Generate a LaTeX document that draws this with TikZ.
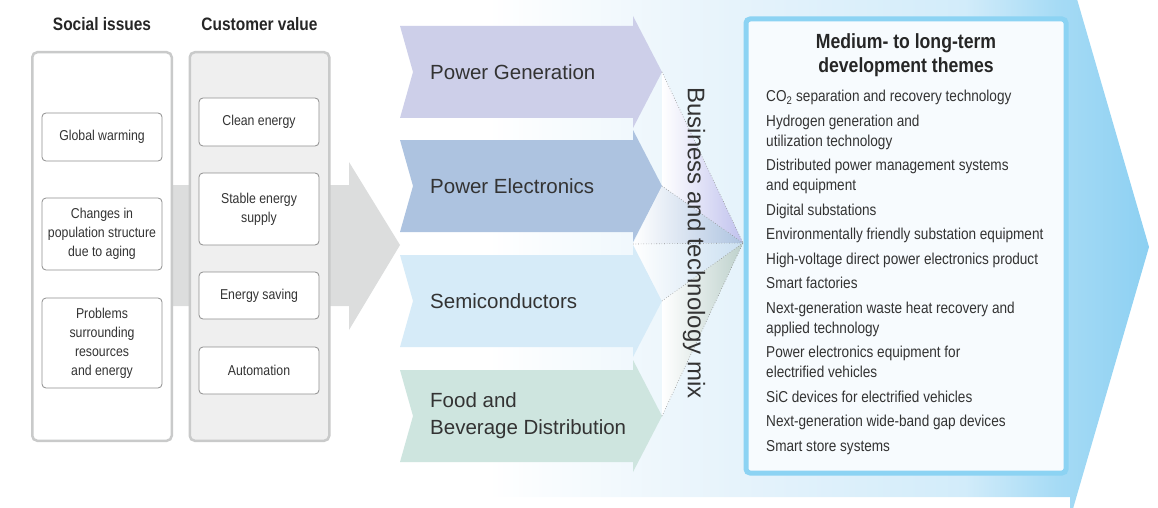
\documentclass[tikz,border=0pt]{standalone}
\usepackage{fontspec}
\setmainfont{Liberation Sans}
\newfontfamily\narrowfont[FakeStretch=0.86]{Liberation Sans}

\definecolor{pgcol}{HTML}{CDCFE9}
\definecolor{pecol}{HTML}{ADC3E0}
\definecolor{sccol}{HTML}{D6EBF8}
\definecolor{fbcol}{HTML}{CEE5DF}
\definecolor{panelline}{HTML}{C9CACA}
\definecolor{panelfill}{HTML}{EFEFEF}
\definecolor{boxline}{HTML}{8E8E8E}
\definecolor{flowgrey}{HTML}{DCDDDD}
\definecolor{frameblue}{HTML}{8CD3F3}
\definecolor{framefill}{HTML}{F7FBFE}
\definecolor{txt}{HTML}{333333}
\definecolor{bgmid}{HTML}{E6F3FB}
\definecolor{bgpale}{HTML}{D2ECFA}
\definecolor{bglight}{HTML}{A6DBF5}
\definecolor{bgdeep}{HTML}{8DD0F2}

\pgfdeclarehorizontalshading{bgfade}{100bp}{color(0bp)=(white); color(25bp)=(white); color(32bp)=(white); color(48bp)=(bgmid); color(63bp)=(bgpale); color(69bp)=(bglight); color(75bp)=(bgdeep); color(100bp)=(bgdeep)}

\begin{document}
\begin{tikzpicture}[x=1pt,y=-1pt,
  panel/.style={draw=panelline,line width=2.5pt,rounded corners=5pt,minimum width=139.5,minimum height=388.5},
  paneltitle/.style={font=\narrowfont\bfseries\fontsize{18}{22}\selectfont,text=black!85},
  issuebox/.style={draw=boxline,fill=white,line width=0.8pt,rounded corners=4pt,minimum width=120,align=center,inner sep=0pt,font=\narrowfont\fontsize{14.3}{19}\selectfont,text=txt},
  sectlabel/.style={anchor=west,align=left,inner sep=0pt,font=\fontsize{20.5}{27}\selectfont,text=txt},
  fanline/.style={draw=black!45,dotted,line width=0.6pt},
  mixlabel/.style={rotate=-90,inner sep=0pt,font=\fontsize{24}{27}\selectfont,text=txt},
  themeframe/.style={draw=frameblue,fill=framefill,line width=5pt,rounded corners=4pt,minimum width=320,minimum height=454},
  themetitle/.style={align=center,font=\narrowfont\bfseries\fontsize{20.5}{24}\selectfont,text=black!85},
  themelist/.style={anchor=north west,align=left,inner sep=0pt,font=\narrowfont\fontsize{15.8}{20}\selectfont,text=txt}]
\useasboundingbox (0,0) rectangle (1158,508);

\shade[shading=bgfade] (380,0) -- (1070,0) -- (1070,-25) -- (1149,247) -- (1070,519) -- (1070,497) -- (380,497) -- cycle;
\fill[flowgrey] (160,185) -- (349,185) -- (349,162) -- (400,245) -- (349,330) -- (349,306) -- (160,306) -- cycle;

\node[panel,fill=white] (social) at (102,246.5) {};
\node[panel,fill=panelfill] (custom) at (259.5,246.5) {};
\node[paneltitle] (socialtitle) at (102,24) {Social issues};
\node[paneltitle] (customtitle) at (259.5,24) {Customer value};

\node[issuebox,minimum height=48] (warming) at (102,137) {Global warming};
\node[issuebox,minimum height=72] (aging) at (102,234) {Changes in\\population structure\\due to aging};
\node[issuebox,minimum height=90] (resources) at (102,343) {Problems\\surrounding\\resources\\and energy};
\node[issuebox,minimum height=48] (clean) at (259,122) {Clean energy};
\node[issuebox,minimum height=72] (stable) at (259,209) {Stable energy\\supply};
\node[issuebox,minimum height=47] (saving) at (259,295.5) {Energy saving};
\node[issuebox,minimum height=47] (automation) at (259,370.5) {Automation};

\foreach \t/\col/\lab/\i in {26/pgcol/{Power Generation}/1, 140/pecol/{Power Electronics}/2, 255/sccol/{Semiconductors}/3, 370/fbcol/{Food and\\Beverage Distribution}/4} {
  \fill[\col] (400,\t) -- (633,\t) -- (633,\t-10) -- (662,\t+46) -- (633,\t+102) -- (633,\t+92) -- (400,\t+92) -- (413,\t+46) -- cycle;
  \coordinate (tip\i) at (662,\t+46);
  \node[sectlabel] (sect\i) at (430,\t+46) {\lab};
}
\coordinate (hub) at (743,243);
\coordinate (notch) at (633,244);
\shade[left color=white,right color=pgcol!90!blue!90] (tip1) -- (hub) -- (tip2) -- cycle;
\shade[left color=white,right color=pecol] (tip2) -- (hub) -- (notch) -- cycle;
\shade[left color=white,right color=sccol!70!pecol] (notch) -- (hub) -- (tip3) -- cycle;
\shade[left color=white,right color=fbcol!90!black!95] (tip3) -- (hub) -- (tip4) -- cycle;
\foreach \i in {1,...,4}
  \draw[fanline] (tip\i) -- (hub);
\draw[fanline] (notch) -- (hub);
\node[mixlabel] (mix) at (694,243) {Business and technology mix};

\node[themeframe] (frame) at (906,246) {};
\node[themetitle] (themetitle) at (906,55) {Medium- to long-term\\development themes};
\node[themelist] (themes) at (766,90) {CO\textsubscript{2} separation and recovery technology\\[4.5pt]
Hydrogen generation and\\utilization technology\\[4.5pt]
Distributed power management systems\\and equipment\\[4.5pt]
Digital substations\\[4.5pt]
Environmentally friendly substation equipment\\[4.5pt]
High-voltage direct power electronics product\\[4.5pt]
Smart factories\\[4.5pt]
Next-generation waste heat recovery and\\applied technology\\[4.5pt]
Power electronics equipment for\\electrified vehicles\\[4.5pt]
SiC devices for electrified vehicles\\[4.5pt]
Next-generation wide-band gap devices\\[4.5pt]
Smart store systems};
\end{tikzpicture}
\end{document}
